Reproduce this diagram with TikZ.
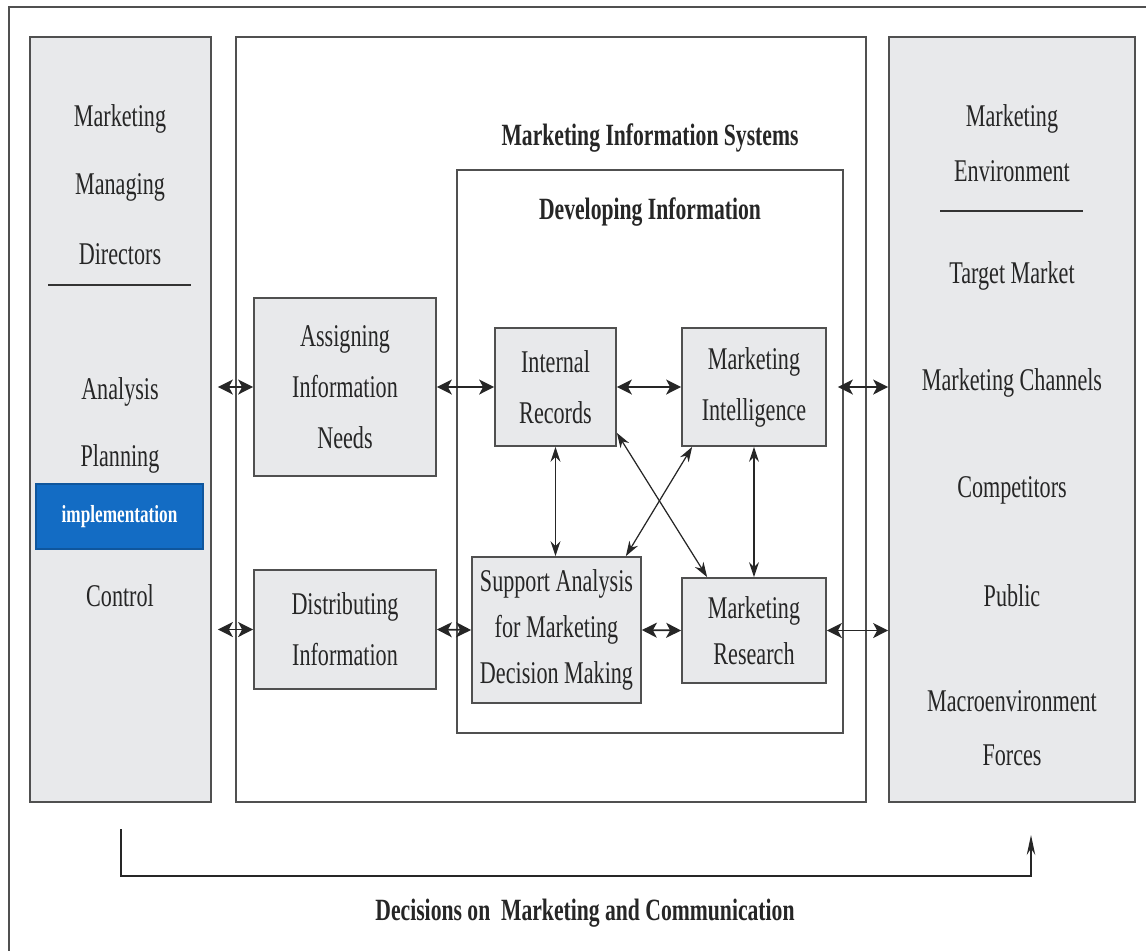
\documentclass[tikz,border=0pt]{standalone}
\usepackage{fontspec}
\setmainfont{Liberation Serif}[FakeStretch=0.7]
\usetikzlibrary{arrows.meta}
\definecolor{panelgray}{RGB}{232,233,235}
\definecolor{edgegray}{RGB}{80,80,80}
\definecolor{implblue}{RGB}{19,108,196}

\begin{document}
\begin{tikzpicture}[x=0.02cm,y=-0.02cm,text=black!85,
    panel/.style={draw=edgegray,line width=1pt,fill=panelgray,inner sep=0pt},
    frame/.style={draw=edgegray,line width=1pt,inner sep=0pt},
    box/.style={draw=edgegray,line width=1pt,fill=panelgray,inner sep=0pt,
      align=center,font=\fontsize{18}{29}\selectfont},
    item/.style={font=\fontsize{18}{22}\selectfont,inner sep=0pt},
    heading/.style={font=\bfseries\fontsize{17.6}{20}\selectfont,inner sep=0pt},
    link/.style={{Stealth[length=0.3cm,width=0.3cm,inset=0.08cm]}-{Stealth[length=0.3cm,width=0.3cm,inset=0.08cm]},
      line width=1pt,black!85},
    thinlink/.style={{Stealth[length=0.3cm,width=0.2cm]}-{Stealth[length=0.3cm,width=0.2cm]},
      line width=0.7pt,black!85}]
  \useasboundingbox (0,0) rectangle (1146,951);
  \draw[edgegray,line width=0.8pt] (1146,7) -- (9,7) -- (9,951);

  \node[panel,minimum width=3.62cm,minimum height=15.3cm] (left) at (120.5,419.5) {};
  \node[frame,minimum width=12.6cm,minimum height=15.3cm] (mis) at (551,419.5) {};
  \node[panel,minimum width=4.92cm,minimum height=15.3cm] (env) at (1012,419.5) {};
  \node[frame,minimum width=7.72cm,minimum height=11.26cm] (dev) at (650,451.5) {};

  \node[item] (lmark) at (120,119) {Marketing};
  \node[item] (lmanage) at (120,187) {Managing};
  \node[item] (ldirect) at (120,254) {Directors};
  \draw[line width=1pt,black!80] (48,285) -- (191,285);
  \node[item] (lanalysis) at (120,392) {Analysis};
  \node[item] (lplan) at (120,459) {Planning};
  \node[draw=implblue!80!black,fill=implblue,line width=0.8pt,minimum width=3.34cm,
    minimum height=1.3cm,text=white,font=\bfseries\fontsize{14}{16}\selectfont]
    (impl) at (119.5,516.5) {implementation};
  \node[item] (lcontrol) at (120,596) {Control};

  \node[heading] (mistitle) at (650,138) {Marketing Information Systems};
  \node[heading] (devtitle) at (650,212) {Developing Information};

  \node[box,minimum width=3.64cm,minimum height=3.56cm] (assign) at (345,387)
    {Assigning\\Information\\Needs};
  \node[box,minimum width=3.64cm,minimum height=2.38cm] (distrib) at (345,629.5)
    {Distributing\\Information};
  \node[box,minimum width=2.42cm,minimum height=2.36cm] (internal) at (555.5,387)
    {Internal\\Records};
  \node[box,minimum width=2.88cm,minimum height=2.36cm] (intel) at (754,387)
    {Marketing\\Intelligence};
  \node[box,minimum width=3.38cm,minimum height=2.92cm,
    font=\fontsize{18}{26}\selectfont] (support) at (556.5,630)
    {Support Analysis\\for Marketing\\Decision Making};
  \node[box,minimum width=2.88cm,minimum height=2.1cm,
    font=\fontsize{18}{26}\selectfont] (research) at (754,630.5)
    {Marketing\\Research};

  \node[item] (rmark) at (1012,119) {Marketing};
  \node[item] (renv) at (1012,171) {Environment};
  \draw[line width=1pt,black!80] (940,211) -- (1083,211);
  \node[item] (rtarget) at (1012,276) {Target Market};
  \node[item] (rchannel) at (1012,383) {Marketing Channels};
  \node[item] (rcompet) at (1012,490) {Competitors};
  \node[item] (rpublic) at (1012,596) {Public};
  \node[item] (rmacro) at (1012,701) {Macroenvironment};
  \node[item] (rforces) at (1012,755) {Forces};

  \begin{scope}[link]
    \draw ([xshift=0.12cm]left.east |- assign) -- (assign.west);
    \draw ([xshift=0.12cm]left.east |- distrib) -- (distrib.west);
    \draw (assign.east) -- (internal.west);
    \draw (distrib.east) -- (support.west);
    \draw (internal.east) -- (intel.west);
    \draw (support.east) -- (research.west);
    \draw ([xshift=0.22cm]intel.east) -- (env.west |- intel);
    \draw (research.east) -- (env.west |- research);
  \end{scope}
  \begin{scope}[thinlink]
    \draw (internal.south) -- (internal.south |- support.north);
    \draw (intel.south) -- (research.north);
    \draw ([yshift=0.28cm]internal.south east) -- ([xshift=0.52cm]research.north west);
    \draw ([xshift=0.22cm]intel.south west) -- ([xshift=-0.32cm]support.north east);
  \end{scope}

  \coordinate (decstart) at (121,829);
  \coordinate (decend) at (1031,835);
  \draw[-{Stealth[length=0.4cm,width=0.17cm]},line width=0.8pt,black!85]
    (decstart) -- ++(0,47) -| (decend);
  \node[heading] (decision) at (585,913)
    {Decisions on \ Marketing and Communication};
\end{tikzpicture}
\end{document}
